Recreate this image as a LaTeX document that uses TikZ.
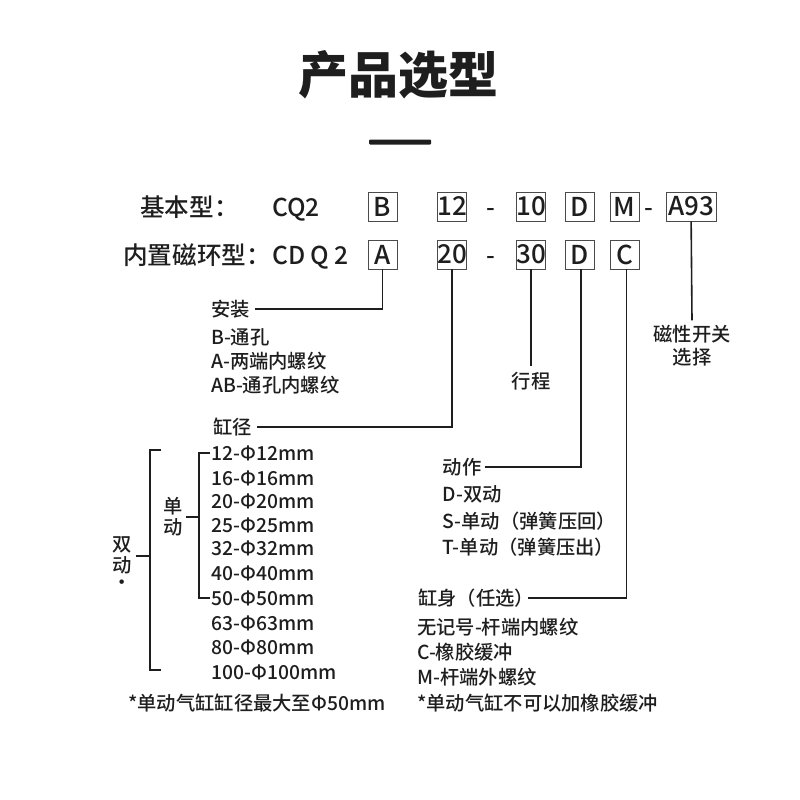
\documentclass[tikz,border=0pt]{standalone}
\usepackage{fontspec}
\usepackage{xcolor}
\usetikzlibrary{positioning}
\setmainfont{Noto Sans CJK SC Medium}
\newfontfamily\titlefont{Noto Sans CJK SC Black}
\definecolor{ink}{HTML}{1E1E1E}
\tikzset{
    headtxt/.style={font=\fontsize{24.6}{26}\selectfont, text=ink, inner sep=0pt, anchor=west, text height=21pt, text depth=3pt},
    codebox/.style={draw=ink!80, line width=0.9pt, font=\fontsize{26}{28}\selectfont, text=ink, inner sep=0pt, minimum width=29pt, minimum height=29pt},
    txt/.style={font=\fontsize{19.3}{23}\selectfont, text=ink, inner sep=0pt, anchor=west, text height=17pt, text depth=2.5pt},
    stack/.style={font=\fontsize{19.3}{23}\selectfont, text=ink, inner sep=0pt, align=center},
    leader/.style={draw=ink, line width=1.6pt, shorten <=5pt},
    bracket/.style={draw=ink, line width=1.6pt}
}

\begin{document}
\begin{tikzpicture}[x=1pt, y=-1pt]
    \useasboundingbox (0, 0) rectangle (800, 800);

    \node[font=\titlefont\fontsize{50}{52}\selectfont, text=ink, inner sep=0pt] (title) at (398, 75) {产品选型};
    \node[fill=ink, inner sep=0pt, minimum width=62pt, minimum height=5pt, rounded corners=1pt] (titlebar) at (400, 142) {};

    \node[headtxt] (basic) at (140, 207) {基本型：};
    \node[headtxt] (builtin) at (123, 255) {内置磁环型：};
    \node[headtxt] (cq) at (272, 207) {CQ2};
    \node[headtxt] (cdq) at (272, 255) {CD Q 2};

    \node[codebox] (b) at (382.5, 206.5) {B};
    \node[codebox] (d12) at (452, 206.5) {12};
    \node[headtxt, anchor=center] (dasha) at (491, 207) {-};
    \node[codebox] (s10) at (531, 206.5) {10};
    \node[codebox] (da) at (579.5, 206.5) {D};
    \node[codebox] (m) at (624.5, 206.5) {M};
    \node[headtxt, anchor=center] (dashb) at (649, 207) {-};
    \node[codebox, minimum width=50pt] (a93) at (691, 206.5) {A93};

    \node[codebox] (a) at (382.5, 254.5) {A};
    \node[codebox] (d20) at (452, 254.5) {20};
    \node[headtxt, anchor=center] (dashc) at (491, 255) {-};
    \node[codebox] (s30) at (531, 254.5) {30};
    \node[codebox] (db) at (579.5, 254.5) {D};
    \node[codebox] (c) at (624.5, 254.5) {C};

    \node[txt] (mount) at (211, 309) {安装};
    \node[txt] (mounta) at (211, 337) {B-通孔};
    \node[txt] (mountb) at (211, 361) {A-两端内螺纹};
    \node[txt] (mountc) at (211, 385) {AB-通孔内螺纹};

    \node[txt, anchor=center] (stroke) at (531, 381) {行程};
    \node[stack] (switch) at (692, 346) {磁性开关\\选择};

    \node[txt] (bore) at (213, 427) {缸径};
    \node[txt] (p12) at (211, 453) {12-Φ12mm};
    \node[txt] (p16) at (211, 478) {16-Φ16mm};
    \node[txt] (p20) at (211, 501) {20-Φ20mm};
    \node[txt] (p25) at (211, 525) {25-Φ25mm};
    \node[txt] (p32) at (211, 548) {32-Φ32mm};
    \node[txt] (p40) at (211, 573) {40-Φ40mm};
    \node[txt] (p50) at (211, 598) {50-Φ50mm};
    \node[txt] (p63) at (211, 623) {63-Φ63mm};
    \node[txt] (p80) at (211, 647) {80-Φ80mm};
    \node[txt] (p100) at (211, 672) {100-Φ100mm};
    \node[txt] (notea) at (128, 703) {*单动气缸缸径最大至Φ50mm};

    \node[stack] (single) at (173, 517) {单\\[-2pt]动};
    \node[stack] (double) at (122, 563) {双\\[-2pt]动\\[-6pt]·};

    \node[txt] (act) at (442.5, 467) {动作};
    \node[txt] (acta) at (442.5, 494) {D-双动};
    \node[txt] (actb) at (442.5, 521) {S-单动（弹簧压回）};
    \node[txt] (actc) at (442.5, 547) {T-单动（弹簧压出）};

    \node[txt] (body) at (418, 598) {缸身（任选）};
    \node[txt] (bodya) at (417, 627) {无记号-杆端内螺纹};
    \node[txt] (bodyb) at (417, 652) {C-橡胶缓冲};
    \node[txt] (bodyc) at (417, 677) {M-杆端外螺纹};
    \node[txt] (noteb) at (417, 703) {*单动气缸不可以加橡胶缓冲};

    \coordinate (inner) at (199, 517);
    \coordinate (outer) at (150, 556);
    \coordinate (outertop) at (161, 450);
    \coordinate (outerbot) at (161, 670);

    \draw[leader] (mount) -| (a);
    \draw[leader] (bore) -| (d20);
    \draw[leader, shorten <=3pt] (act) -| ([xshift=1.5pt]db.south);
    \draw[leader, shorten <=-6pt] (body) -| ([xshift=2pt]c.south);
    \draw[bracket] (s30) -- ([yshift=5pt]stroke.north);
    \draw[bracket] (a93) -- ([yshift=5pt]switch.north);

    \draw[bracket] ([xshift=-1pt]p12.west) -| (inner) |- ([xshift=-1pt]p50.west);
    \draw[bracket, shorten <=3pt] (single) -- (inner);
    \draw[bracket] (outertop) -| (outer) |- (outerbot);
    \draw[bracket] ([xshift=4pt]double.east |- outer) -- (outer);
\end{tikzpicture}
\end{document}
